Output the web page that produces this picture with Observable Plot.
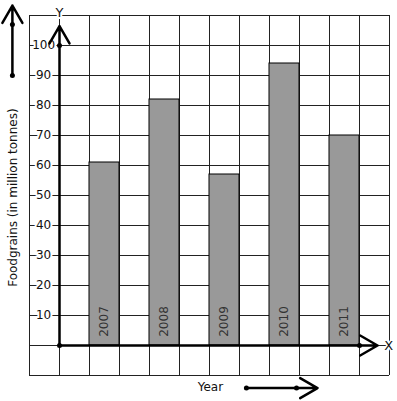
<!DOCTYPE html>
<html>
<head>
<meta charset="utf-8">
<script src="https://cdn.jsdelivr.net/npm/d3@7"></script>
<script src="https://cdn.jsdelivr.net/npm/@observablehq/plot@0.6"></script>
<style>
  html, body { margin: 0; padding: 0; background: #fff; }
  #chart svg { display: block; }
</style>
</head>
<body>
<div id="chart"></div>
<script>
const years = ["2007", "2008", "2009", "2010", "2011"];
const values = [61, 82, 57, 94, 70];
const yTicks = [10, 20, 30, 40, 50, 60, 70, 80, 90, 100];
const gridX = d3.range(-1, 12, 1);
const gridY = d3.range(-10, 111, 10);

const bars = years.map((yr, i) => ({year: yr, value: values[i], x1: 2 * i + 1, x2: 2 * i + 2}));
const font = "DejaVu Sans";

const chart = Plot.plot({
  width: 397,
  height: 401,
  marginLeft: 29,
  marginRight: 8,
  marginTop: 15,
  marginBottom: 26,
  style: {fontFamily: font, background: "#fff"},
  x: {type: "linear", domain: [-1, 11], axis: null},
  y: {type: "linear", domain: [-10, 110], axis: null},
  marks: [
    Plot.ruleX(gridX, {x: d => d, y1: -10, y2: 110, stroke: "#222", strokeWidth: 1}),
    Plot.ruleY(gridY, {y: d => d, x1: -1, x2: 11, stroke: "#222", strokeWidth: 1}),
    Plot.rectY(bars, {x1: "x1", x2: "x2", y1: 0, y2: "value", fill: "#999999", stroke: "#000", strokeWidth: 1}),
    Plot.text(bars, {x: d => (d.x1 + d.x2) / 2, y: 8, text: "year", rotate: -90, fill: "#333", fontSize: 12}),
    Plot.text(yTicks, {x: -0.53, y: d => d, text: d => String(d), fill: "#111", fontSize: 12, stroke: "white", strokeWidth: 4, paintOrder: "stroke"}),
    Plot.arrow([0], {x1: 0, y1: 0, x2: 0, y2: 106.5, stroke: "#000", strokeWidth: 2.5, headLength: 12, headAngle: 60}),
    Plot.arrow([0], {x1: 0, y1: 0, x2: 10.6, y2: 0, stroke: "#000", strokeWidth: 2.5, headLength: 12, headAngle: 60}),
    Plot.dot([[0, 0], [0, 100], [10, 0]], {x: d => d[0], y: d => d[1], r: 2.5, fill: "#000"}),
    Plot.text(["Y"], {x: 0, y: 111, text: d => d, fill: "#111", fontSize: 13, stroke: "white", strokeWidth: 4, paintOrder: "stroke"}),
    Plot.text(["X"], {x: 10.97, y: 0, text: d => d, fill: "#111", fontSize: 13, stroke: "white", strokeWidth: 3, paintOrder: "stroke"}),
    // decorative direction arrows
    Plot.arrow([0], {x1: -1.57, y1: 90, x2: -1.57, y2: 113.3, stroke: "#000", strokeWidth: 2.5, headLength: 12, headAngle: 60}),
    Plot.dot([90, 107], {x: -1.57, y: d => d, r: 2.5, fill: "#000"}),
    Plot.arrow([0], {x1: 6.23, y1: -14.2, x2: 8.6, y2: -14.2, stroke: "#000", strokeWidth: 2.5, headLength: 12, headAngle: 60}),
    Plot.dot([6.23, 7.9], {x: d => d, y: -14.2, r: 2.5, fill: "#000"}),
    Plot.text(["Year"], {x: 5.03, y: -14, text: d => d, fill: "#111", fontSize: 12}),
    Plot.text(["Foodgrains (in million tonnes)"], {x: -1.53, y: 49.3, text: d => d, rotate: -90, fill: "#111", fontSize: 12})
  ]
});
document.getElementById("chart").appendChild(chart);
</script>
</body>
</html>
